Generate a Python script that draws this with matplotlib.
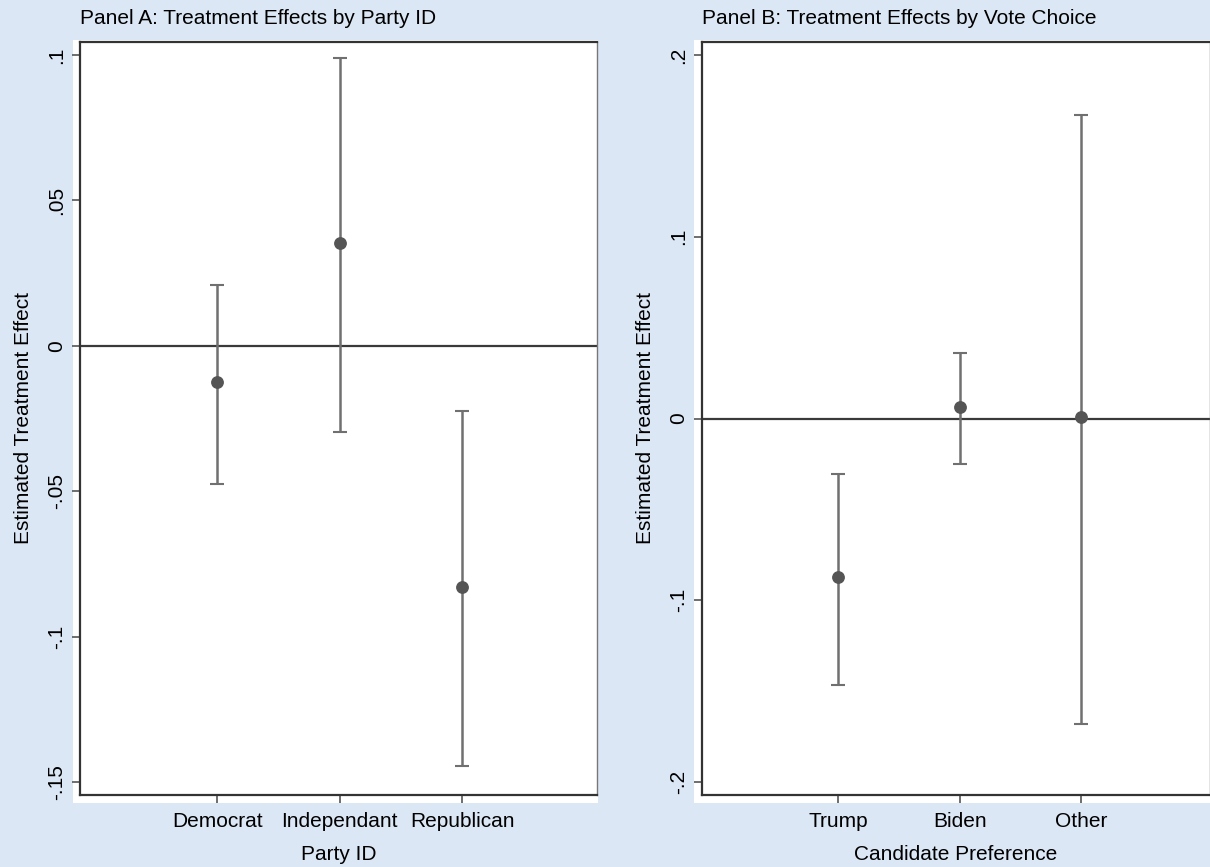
import numpy as np
import matplotlib.pyplot as plt
from matplotlib.patches import Rectangle

plt.rcParams['font.family'] = ['Liberation Sans', 'DejaVu Sans']

# Panel A data
party = ["Democrat", "Independant", "Republican"]
party_est = [-0.0124, 0.0354, -0.0829]
party_lo = [-0.0475, -0.0296, -0.1446]
party_hi = [0.0210, 0.0990, -0.0224]
party_ticks = [-0.15, -0.1, -0.05, 0, 0.05, 0.1]
party_ticklabels = ["-.15", "-.1", "-.05", "0", ".05", ".1"]

# Panel B data
vote = ["Trump", "Biden", "Other"]
vote_est = [-0.0875, 0.0066, 0.0006]
vote_lo = [-0.1469, -0.0248, -0.1684]
vote_hi = [-0.0308, 0.0363, 0.1673]
vote_ticks = [-0.2, -0.1, 0, 0.1, 0.2]
vote_ticklabels = ["-.2", "-.1", "0", ".1", ".2"]

bg = "#dce7f5"
fs = 15
fig = plt.figure(figsize=(12.1, 8.67), dpi=100)
fig.patch.set_facecolor(bg)


def panel(rect, white, title, cats, est, lo, hi, ticks, tlabels, ylim, xlim, xlabel):
    # white plot region slightly larger than the axes
    fig.add_artist(Rectangle((white[0], white[1]), white[2], white[3],
                             transform=fig.transFigure, facecolor="white",
                             edgecolor="none", zorder=0))
    ax = fig.add_axes(rect)
    ax.set_facecolor("white")
    x = np.arange(1, len(cats) + 1)
    est = np.array(est)
    lo = np.array(lo)
    hi = np.array(hi)
    ax.axhline(0, color="#3a3a3a", lw=1.6, zorder=1)
    ax.errorbar(x, est, yerr=[est - lo, hi - est], fmt="none",
                ecolor="#707070", elinewidth=1.8, capsize=5, capthick=1.5, zorder=2)
    ax.plot(x, est, "o", color="#555555", ms=8.2, zorder=3)
    ax.set_xlim(*xlim)
    ax.set_ylim(*ylim)
    ax.set_xticks(x)
    ax.set_xticklabels(cats, fontsize=fs)
    ax.set_yticks(ticks)
    ax.set_yticklabels(tlabels, fontsize=fs, rotation=90, va="center")
    ax.tick_params(axis="both", length=6, width=1.2, color="#555555", pad=6)
    ax.tick_params(axis="y", pad=4)
    for s in ["left", "bottom", "top"]:
        ax.spines[s].set_color("#333333")
        ax.spines[s].set_linewidth(1.6)
    ax.spines["right"].set_color("#777777")
    ax.spines["right"].set_linewidth(1.0)
    ax.set_xlabel(xlabel, fontsize=fs, labelpad=10)
    ax.set_ylabel("Estimated Treatment Effect", fontsize=fs, labelpad=10)
    ax.set_title(title, fontsize=fs, loc="left", pad=13)
    return ax


W, H = 1210, 867
axA = panel([80 / W, 72 / H, 517 / W, 753 / H],
            [73 / W, 64 / H, 525 / W, 763 / H],
            "Panel A: Treatment Effects by Party ID",
            party, party_est, party_lo, party_hi, party_ticks, party_ticklabels,
            (-0.1545, 0.1045), (-0.12, 4.10), "Party ID")
axB = panel([702 / W, 72 / H, 508 / W, 753 / H],
            [694 / W, 64 / H, 516 / W, 763 / H],
            "Panel B: Treatment Effects by Vote Choice",
            vote, vote_est, vote_lo, vote_hi, vote_ticks, vote_ticklabels,
            (-0.2072, 0.2072), (-0.12, 4.06), "Candidate Preference")

fig.savefig("out.png", dpi=100, facecolor=bg)
